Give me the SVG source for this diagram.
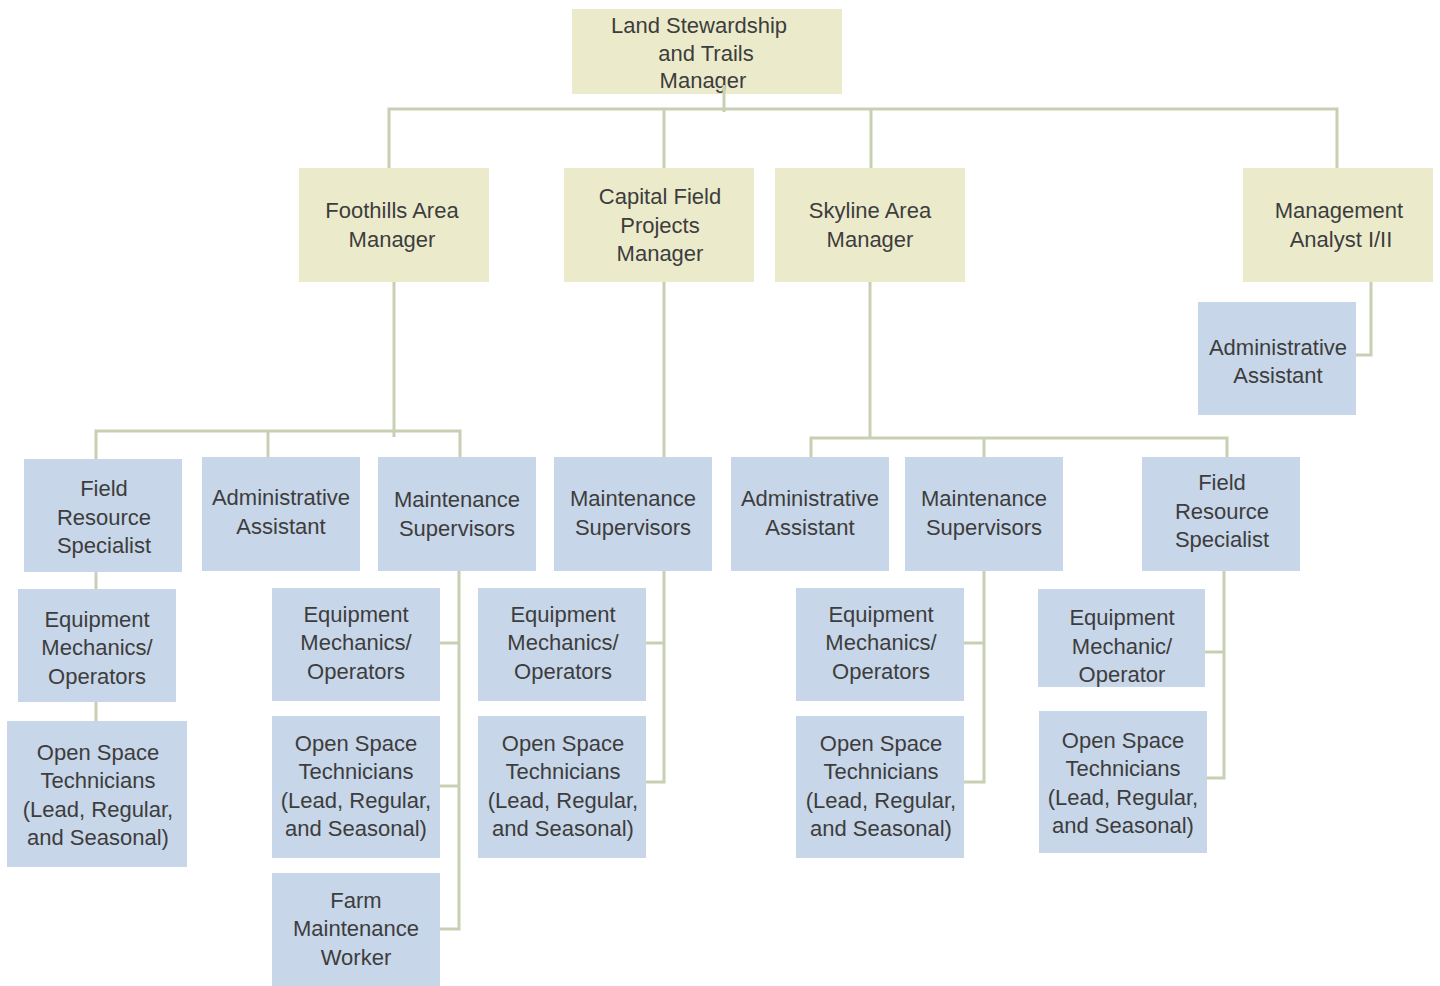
<svg xmlns="http://www.w3.org/2000/svg" width="1440" height="986" viewBox="0 0 1440 986">
  <style>
    .mgr rect { fill: #ebebcb; }
    .staff rect { fill: #c7d6e8; }
    text { font-family: "Liberation Sans", Arial, sans-serif; font-size: 22px; fill: #3d3d3d; text-anchor: middle; }
    #connectors path { fill: none; stroke: #c8d0b3; stroke-width: 3; }
  </style>
  <rect width="1440" height="986" fill="#ffffff"/>

  <!-- Top level -->
  <g id="n-land" class="mgr">
    <rect x="572" y="9" width="270" height="85"/>
    <text x="699" y="33">Land Stewardship</text>
    <text x="706" y="61">and Trails</text>
    <text x="703" y="88">Manager</text>
  </g>

  <!-- Second level -->
  <g id="n-foothills" class="mgr">
    <rect x="299" y="168" width="190" height="114"/>
    <text x="392" y="218">Foothills Area</text>
    <text x="392" y="247">Manager</text>
  </g>
  <g id="n-capital" class="mgr">
    <rect x="564" y="168" width="190" height="114"/>
    <text x="660" y="204">Capital Field</text>
    <text x="660" y="233">Projects</text>
    <text x="660" y="261">Manager</text>
  </g>
  <g id="n-skyline" class="mgr">
    <rect x="775" y="168" width="190" height="114"/>
    <text x="870" y="218">Skyline Area</text>
    <text x="870" y="247">Manager</text>
  </g>
  <g id="n-analyst" class="mgr">
    <rect x="1243" y="168" width="190" height="114"/>
    <text x="1339" y="218">Management</text>
    <text x="1341" y="247">Analyst I/II</text>
  </g>
  <g id="n-analyst-admin" class="staff">
    <rect x="1198" y="302" width="158" height="113"/>
    <text x="1278" y="355">Administrative</text>
    <text x="1278" y="383">Assistant</text>
  </g>

  <!-- Foothills branch -->
  <g id="n-f-field" class="staff">
    <rect x="24" y="459" width="158" height="113"/>
    <text x="104" y="496">Field</text>
    <text x="104" y="525">Resource</text>
    <text x="104" y="553">Specialist</text>
  </g>
  <g id="n-f-admin" class="staff">
    <rect x="202" y="457" width="158" height="114"/>
    <text x="281" y="505">Administrative</text>
    <text x="281" y="534">Assistant</text>
  </g>
  <g id="n-f-maint" class="staff">
    <rect x="378" y="457" width="158" height="114"/>
    <text x="457" y="507">Maintenance</text>
    <text x="457" y="536">Supervisors</text>
  </g>
  <g id="n-f-field-equip" class="staff">
    <rect x="18" y="589" width="158" height="113"/>
    <text x="97" y="627">Equipment</text>
    <text x="97" y="655">Mechanics/</text>
    <text x="97" y="684">Operators</text>
  </g>
  <g id="n-f-field-ost" class="staff">
    <rect x="7" y="721" width="180" height="146"/>
    <text x="98" y="760">Open Space</text>
    <text x="98" y="788">Technicians</text>
    <text x="98" y="817">(Lead, Regular,</text>
    <text x="98" y="845">and Seasonal)</text>
  </g>
  <g id="n-f-maint-equip" class="staff">
    <rect x="272" y="588" width="168" height="113"/>
    <text x="356" y="622">Equipment</text>
    <text x="356" y="650">Mechanics/</text>
    <text x="356" y="679">Operators</text>
  </g>
  <g id="n-f-maint-ost" class="staff">
    <rect x="272" y="716" width="168" height="142"/>
    <text x="356" y="751">Open Space</text>
    <text x="356" y="779">Technicians</text>
    <text x="356" y="808">(Lead, Regular,</text>
    <text x="356" y="836">and Seasonal)</text>
  </g>
  <g id="n-f-farm" class="staff">
    <rect x="272" y="873" width="168" height="120"/>
    <text x="356" y="908">Farm</text>
    <text x="356" y="936">Maintenance</text>
    <text x="356" y="965">Worker</text>
  </g>

  <!-- Capital branch -->
  <g id="n-c-maint" class="staff">
    <rect x="554" y="457" width="158" height="114"/>
    <text x="633" y="506">Maintenance</text>
    <text x="633" y="535">Supervisors</text>
  </g>
  <g id="n-c-equip" class="staff">
    <rect x="478" y="588" width="168" height="113"/>
    <text x="563" y="622">Equipment</text>
    <text x="563" y="650">Mechanics/</text>
    <text x="563" y="679">Operators</text>
  </g>
  <g id="n-c-ost" class="staff">
    <rect x="478" y="716" width="168" height="142"/>
    <text x="563" y="751">Open Space</text>
    <text x="563" y="779">Technicians</text>
    <text x="563" y="808">(Lead, Regular,</text>
    <text x="563" y="836">and Seasonal)</text>
  </g>

  <!-- Skyline branch -->
  <g id="n-s-admin" class="staff">
    <rect x="731" y="457" width="158" height="114"/>
    <text x="810" y="506">Administrative</text>
    <text x="810" y="535">Assistant</text>
  </g>
  <g id="n-s-maint" class="staff">
    <rect x="905" y="457" width="158" height="114"/>
    <text x="984" y="506">Maintenance</text>
    <text x="984" y="535">Supervisors</text>
  </g>
  <g id="n-s-field" class="staff">
    <rect x="1142" y="457" width="158" height="114"/>
    <text x="1222" y="490">Field</text>
    <text x="1222" y="519">Resource</text>
    <text x="1222" y="547">Specialist</text>
  </g>
  <g id="n-s-maint-equip" class="staff">
    <rect x="796" y="588" width="168" height="113"/>
    <text x="881" y="622">Equipment</text>
    <text x="881" y="650">Mechanics/</text>
    <text x="881" y="679">Operators</text>
  </g>
  <g id="n-s-maint-ost" class="staff">
    <rect x="796" y="716" width="168" height="142"/>
    <text x="881" y="751">Open Space</text>
    <text x="881" y="779">Technicians</text>
    <text x="881" y="808">(Lead, Regular,</text>
    <text x="881" y="836">and Seasonal)</text>
  </g>
  <g id="n-s-field-equip" class="staff">
    <rect x="1038" y="589" width="167" height="98"/>
    <text x="1122" y="625">Equipment</text>
    <text x="1122" y="654">Mechanic/</text>
    <text x="1122" y="682">Operator</text>
  </g>
  <g id="n-s-field-ost" class="staff">
    <rect x="1039" y="711" width="168" height="142"/>
    <text x="1123" y="748">Open Space</text>
    <text x="1123" y="776">Technicians</text>
    <text x="1123" y="805">(Lead, Regular,</text>
    <text x="1123" y="833">and Seasonal)</text>
  </g>

  <!-- Reporting lines -->
  <g id="connectors">
    <path d="M724 85 V112"/>
    <path d="M389 168 V109 H1337 V168"/>
    <path d="M664 109 V168"/>
    <path d="M871 109 V168"/>
    <path d="M1371 282 V355 H1356"/>

    <path d="M394 282 V437"/>
    <path d="M96 459 V431 H460 V457"/>
    <path d="M268 431 V457"/>
    <path d="M96 572 V589"/>
    <path d="M96 702 V721"/>
    <path d="M459 571 V929 H440"/>
    <path d="M440 643 H459"/>
    <path d="M440 786 H459"/>

    <path d="M664 282 V457"/>
    <path d="M664 571 V782 H646"/>
    <path d="M646 643 H664"/>

    <path d="M870 282 V438"/>
    <path d="M811 457 V438 H1227 V457"/>
    <path d="M984 438 V457"/>
    <path d="M984 571 V782 H964"/>
    <path d="M964 643 H984"/>
    <path d="M1224 571 V778 H1207"/>
    <path d="M1205 652 H1224"/>
  </g>
</svg>
